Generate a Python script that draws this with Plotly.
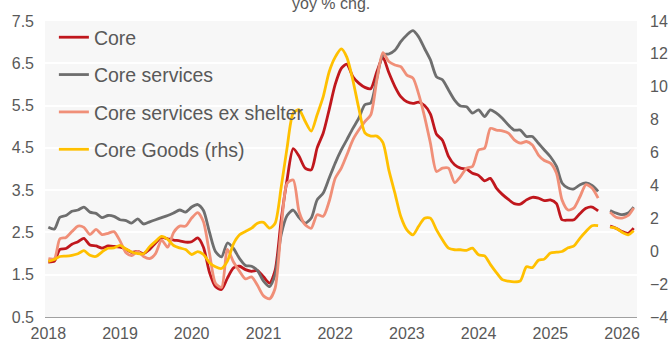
import pandas as pd
import plotly.graph_objects as go

# Monthly observations, Jan 2018 - Mar 2026 (Oct 2025 not published)
months = pd.date_range("2018-01-01", "2026-03-01", freq="MS").strftime("%Y-%m-%d").tolist()

core = [
    1.80, 1.82, 2.10, 2.12, 2.22, 2.28, 2.36, 2.20, 2.18, 2.13, 2.18, 2.17,  # 2018
    2.15, 2.10, 2.03, 2.05, 2.00, 2.10, 2.25, 2.38, 2.35, 2.32, 2.30, 2.27,  # 2019
    2.28, 2.37, 2.15, 1.55, 1.22, 1.15, 1.42, 1.66, 1.70, 1.62, 1.58, 1.60,  # 2020
    1.45, 1.30, 1.60, 2.80, 3.75, 4.48, 4.30, 4.02, 3.98, 4.50, 4.85, 5.40,  # 2021
    6.00, 6.38, 6.48, 6.18, 6.03, 5.93, 5.90, 6.30, 6.64, 6.28, 5.95, 5.71,  # 2022
    5.59, 5.55, 5.58, 5.50, 5.30, 4.82, 4.68, 4.30, 4.10, 4.02, 4.00, 3.90,  # 2023
    3.85, 3.72, 3.78, 3.55, 3.40, 3.28, 3.18, 3.17, 3.27, 3.33, 3.31, 3.25,  # 2024
    3.27, 3.18, 2.80, 2.79, 2.80, 2.95, 3.07, 3.10, 3.01, None, 2.65, 2.60,  # 2025
    2.52, 2.48, 2.60,                                                        # 2026
]

core_services = [
    2.62, 2.58, 2.86, 2.90, 3.00, 3.03, 3.10, 2.98, 2.95, 2.85, 2.90, 2.88,
    2.80, 2.78, 2.72, 2.82, 2.70, 2.75, 2.80, 2.85, 2.90, 2.96, 3.03, 2.98,
    3.10, 3.16, 3.02, 2.50, 2.05, 1.92, 2.25, 2.12, 1.88, 1.72, 1.70, 1.60,
    1.35, 1.22, 1.50, 2.45, 2.90, 3.03, 2.85, 2.72, 2.84, 3.27, 3.43, 3.78,
    4.14, 4.45, 4.69, 4.96, 5.20, 5.52, 5.56, 6.15, 6.70, 6.72, 6.81, 7.01,
    7.17, 7.27, 7.13, 6.85, 6.58, 6.18, 6.11, 5.87, 5.63, 5.49, 5.47, 5.32,
    5.40, 5.24, 5.40, 5.32, 5.20, 5.04, 4.92, 4.92, 4.77, 4.77, 4.61, 4.45,
    4.29, 4.06, 3.67, 3.55, 3.53, 3.63, 3.67, 3.61, 3.47, None, 3.02, 2.96,
    2.92, 2.96, 3.10,
]

services_ex_shelter = [
    1.88, 1.88, 2.35, 2.38, 2.52, 2.65, 2.62, 2.45, 2.57, 2.45, 2.48, 2.52,
    2.30, 2.02, 1.95, 2.05, 1.93, 1.88, 2.00, 2.32, 2.15, 2.50, 2.65, 2.65,
    2.84, 2.97, 2.75, 2.00, 1.30, 1.20, 2.10, 1.80, 1.58, 1.40, 1.45, 1.25,
    1.00, 0.93, 1.18, 2.60, 3.66, 3.74, 2.99, 2.68, 2.60, 2.92, 2.88, 3.23,
    3.78, 4.02, 4.33, 4.69, 4.92, 5.12, 5.28, 6.10, 6.75, 6.54, 6.46, 6.42,
    6.22, 6.15, 5.79, 5.24, 4.61, 3.94, 4.02, 4.02, 3.68, 3.82, 4.02, 4.06,
    4.45, 4.49, 4.96, 4.92, 4.90, 4.85, 4.69, 4.61, 4.65, 4.57, 4.33, 4.20,
    4.14, 3.90, 3.27, 3.03, 3.08, 3.35, 3.63, 3.55, 3.31, None, 2.98, 2.86,
    2.84, 2.90, 3.08,
]

core_goods = [
    -0.62, -0.50, -0.32, -0.30, -0.25, -0.15, 0.03, -0.25, -0.32, -0.05, 0.18, 0.20,
    0.35, 0.13, -0.05, -0.15, -0.15, 0.28, 0.60, 0.90, 0.72, 0.35, 0.20, 0.10,
    -0.20, -0.02, -0.20, -0.70, -0.95, -1.05, -0.60, 0.45, 1.00, 1.20, 1.40, 1.70,
    1.75, 1.40, 1.70, 3.90, 6.30, 8.40, 8.60, 7.90, 7.30, 8.30, 9.40, 10.90,
    11.80, 12.30, 11.80, 10.40, 8.70, 7.20, 7.00, 7.00, 6.60, 4.95, 3.53, 2.11,
    1.30, 1.00, 1.50, 2.01, 2.01, 1.30, 0.70, 0.19, 0.09, 0.09, 0.05, 0.19,
    -0.22, -0.28, -0.80, -1.30, -1.73, -1.82, -1.86, -1.80, -0.95, -1.00, -0.55, -0.48,
    -0.11, -0.06, -0.02, 0.21, 0.33, 0.80, 1.20, 1.55, 1.55, None, 1.47, 1.40,
    1.15, 1.00, 1.25,
]

year_ticks = ["2018-01-01", "2019-01-01", "2020-01-01", "2021-01-01", "2022-01-01",
              "2023-01-01", "2024-01-01", "2025-01-01", "2026-01-01"]
year_labels = ["2018", "2019", "2020", "2021", "2022", "2023", "2024", "2025", "2026"]
left_ticks = [0.5, 1.5, 2.5, 3.5, 4.5, 5.5, 6.5, 7.5]
right_ticks = [-4, -2, 0, 2, 4, 6, 8, 10, 12, 14]

FONT = "Liberation Sans, Arial, sans-serif"
TEXT = "#595959"

series = [
    ("Core", core, "#C0171D", "y"),
    ("Core services", core_services, "#6E6E6E", "y"),
    ("Core services ex shelter", services_ex_shelter, "#F08F78", "y"),
    ("Core Goods (rhs)", core_goods, "#FFC000", "y2"),
]

fig = go.Figure()
for i, (name, vals, color, axis) in enumerate(series):
    fig.add_trace(go.Scatter(
        x=months, y=vals, name=name, yaxis=axis, mode="lines",
        line=dict(color=color, width=2.8, shape="spline", smoothing=0.7),
        connectgaps=False, legendgroup=f"g{i}",
    ))

fig.update_layout(
    width=668, height=341,
    margin=dict(l=45, r=31, t=21, b=24, autoexpand=False),
    paper_bgcolor="white",
    plot_bgcolor="#F7F7F7",
    font=dict(family=FONT, color=TEXT, size=16),
    showlegend=True,
    legend=dict(
        x=0.015, y=1.01, xanchor="left", yanchor="top",
        bgcolor="rgba(0,0,0,0)", font=dict(size=19.5, color=TEXT, family=FONT),
        tracegroupgap=9, itemwidth=30,
    ),
    xaxis=dict(
        type="date", range=["2017-12-15", "2026-03-18"],
        tickvals=year_ticks, ticktext=year_labels,
        showgrid=False, zeroline=False, automargin=False,
        showline=True, linecolor="#A0A0A0", linewidth=1.2,
        ticks="", ticklabelstandoff=2,
        tickfont=dict(size=16, color=TEXT),
    ),
    yaxis=dict(
        range=[0.5, 7.5], tickvals=left_ticks, tickformat=".1f",
        showgrid=True, gridcolor="white", gridwidth=1.5,
        zeroline=False, showline=False, ticks="", automargin=False,
        ticklabelstandoff=10,
        tickfont=dict(size=16, color=TEXT),
    ),
    yaxis2=dict(
        range=[-4, 14], tickvals=right_ticks, overlaying="y", side="right",
        showgrid=False, zeroline=False, showline=False, ticks="", automargin=False,
        ticklabelstandoff=12,
        tickfont=dict(size=16, color=TEXT),
    ),
    annotations=[dict(
        text="yoy % chg.", xref="paper", yref="paper", x=0.483, y=1.058,
        xanchor="center", yanchor="middle", showarrow=False,
        font=dict(size=16, color=TEXT, family=FONT),
    )],
)

fig.write_html("out.html")
